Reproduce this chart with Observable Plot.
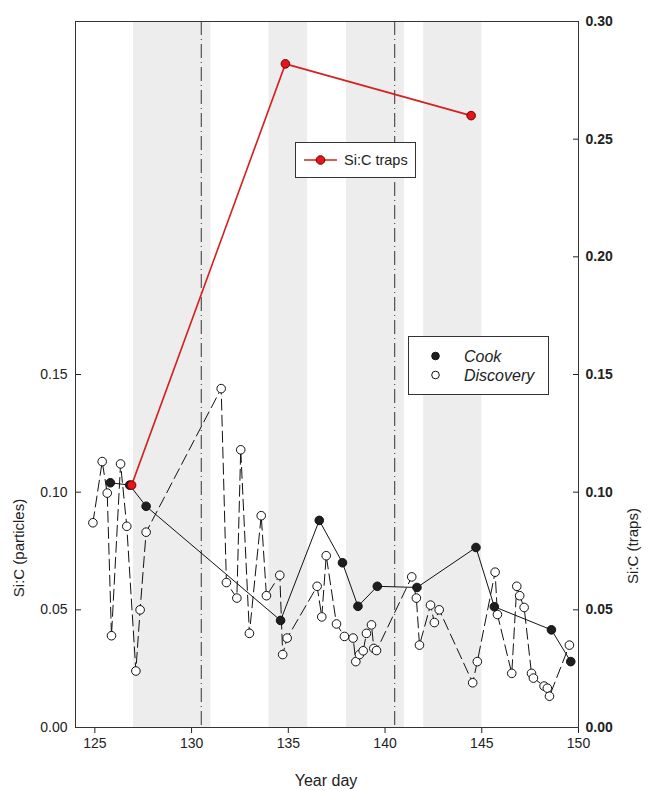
<!DOCTYPE html>
<html>
<head>
<meta charset="utf-8">
<script src="https://cdn.jsdelivr.net/npm/d3@7"></script>
<script src="https://cdn.jsdelivr.net/npm/@observablehq/plot@0.6"></script>
<style>
  html, body { margin: 0; padding: 0; background: #fff; }
  body { font-family: "Liberation Sans", Arial, sans-serif; color: #222; }
  #chart { position: relative; width: 649px; height: 791px; }
  #chart svg.overlay { position: absolute; left: 0; top: 0; pointer-events: none; }
</style>
</head>
<body>
<div id="chart"></div>
<script>
// Si:C ratios of suspended particles (Cook and Discovery cruises) and of sediment traps, by year day.
const cookDay = [125.8, 126.8, 127.65, 134.6, 136.6, 137.8, 138.6, 139.6, 141.65, 144.7, 145.65, 148.6, 149.6];
const cookSiC = [0.104, 0.103, 0.094, 0.0455, 0.088, 0.070, 0.0515, 0.060, 0.0595, 0.0765, 0.0513, 0.0415, 0.028];

const discoveryDay = [124.9, 125.38, 125.64, 125.86, 126.33, 126.65, 127.12, 127.34, 127.65,
  131.53, 131.8, 132.34, 132.54, 132.99, 133.6, 133.87, 134.56, 134.71, 134.94,
  136.49, 136.73, 136.96, 137.49, 137.9, 138.35, 138.49, 138.68, 138.87, 139.04, 139.3, 139.42, 139.56,
  141.38, 141.62, 141.78, 142.35, 142.55, 142.8, 144.53, 144.77, 145.69, 145.81,
  146.55, 146.81, 146.96, 147.19, 147.57, 147.67, 148.22, 148.39, 148.5, 149.53];
const discoverySiC = [0.087, 0.113, 0.0996, 0.039, 0.112, 0.0855, 0.024, 0.050, 0.083,
  0.144, 0.0616, 0.055, 0.118, 0.040, 0.090, 0.056, 0.0647, 0.031, 0.038,
  0.060, 0.047, 0.073, 0.044, 0.0387, 0.038, 0.028, 0.031, 0.0326, 0.040, 0.0436, 0.0336, 0.0327,
  0.064, 0.055, 0.035, 0.052, 0.0446, 0.050, 0.019, 0.028, 0.066, 0.048,
  0.023, 0.060, 0.056, 0.051, 0.023, 0.021, 0.0176, 0.0167, 0.0133, 0.035];

const trapDay = [126.9, 134.85, 144.45];
const trapSiC = [0.103, 0.282, 0.260];

// Shaded periods and event markers (year day)
const bandStart = [127, 134, 138, 142];
const bandEnd = [131, 136, 141, 145];
const eventDays = [130.5, 140.5];

// Tick labels
const xTicks = [125, 130, 135, 140, 145, 150];
const leftTicks = [0, 0.05, 0.10, 0.15];
const rightTicks = [0, 0.05, 0.10, 0.15, 0.20, 0.25, 0.30];

const cook = cookDay.map((d, i) => ({day: d, sic: cookSiC[i]}));
const discovery = discoveryDay.map((d, i) => ({day: d, sic: discoverySiC[i]}));
const traps = trapDay.map((d, i) => ({day: d, sic: trapSiC[i]}));
const bands = bandStart.map((s, i) => ({start: s, end: bandEnd[i]}));

const fmt = d3.format(".2f");
const R = 4.3;

const plot = Plot.plot({
  width: 649,
  height: 791,
  marginLeft: 75,
  marginRight: 71,
  marginTop: 21,
  marginBottom: 64,
  style: {fontFamily: '"Liberation Sans", Arial, sans-serif', fontSize: "14px", color: "#222", background: "#fff"},
  x: {domain: [124, 150]},
  y: {domain: [0, 0.30]},
  marks: [
    Plot.rect(bands, {x1: "start", x2: "end", fill: "#ededed"}),
    Plot.ruleX(eventDays, {stroke: "#333", strokeWidth: 1, strokeDasharray: "14,4,1,4"}),
    Plot.line(discovery, {x: "day", y: "sic", stroke: "#111", strokeWidth: 1, strokeDasharray: "11,5"}),
    Plot.dot(discovery, {x: "day", y: "sic", r: R, fill: "#fff", stroke: "#111", strokeWidth: 1}),
    Plot.line(cook, {x: "day", y: "sic", stroke: "#111", strokeWidth: 1}),
    Plot.dot(cook, {x: "day", y: "sic", r: R, fill: "#1e1e1e", stroke: "#111", strokeWidth: 1}),
    Plot.line(traps, {x: "day", y: "sic", stroke: "#d42020", strokeWidth: 1.6}),
    Plot.dot(traps, {x: "day", y: "sic", r: R, fill: "#e8141c", stroke: "#700000", strokeWidth: 1}),
    Plot.axisX({ticks: xTicks, tickFormat: d => String(d), tickSize: 6, tickPadding: 5, label: null, fontSize: 14}),
    Plot.axisY({anchor: "left", ticks: leftTicks, tickFormat: fmt, tickSize: -6, tickPadding: 14, label: null, fontSize: 14}),
    Plot.axisY({anchor: "right", ticks: rightTicks, tickFormat: fmt, tickSize: -6, tickPadding: 13, label: null, fontSize: 14, fontWeight: "bold"}),
    Plot.frame({stroke: "#333", strokeWidth: 1})
  ]
});

const chart = document.getElementById("chart");
chart.appendChild(plot);

// Axis titles and legends
const svg = d3.select(chart).append("svg")
  .attr("class", "overlay")
  .attr("width", 649).attr("height", 791)
  .style("font-family", '"Liberation Sans", Arial, sans-serif')
  .style("fill", "#222");

svg.append("text")
  .attr("x", 326).attr("y", 786)
  .attr("text-anchor", "middle")
  .style("font-size", "16px")
  .text("Year day");

svg.append("text")
  .attr("transform", "translate(24,548) rotate(-90)")
  .attr("text-anchor", "middle")
  .style("font-size", "15px")
  .text("Si:C (particles)");

svg.append("text")
  .attr("transform", "translate(638,546) rotate(-90)")
  .attr("text-anchor", "middle")
  .style("font-size", "15px")
  .text("Si:C (traps)");

// Trap legend
const lt = svg.append("g");
lt.append("rect").attr("x", 295.5).attr("y", 142.5).attr("width", 120).attr("height", 35)
  .attr("fill", "#fff").attr("stroke", "#333");
lt.append("line").attr("x1", 304).attr("x2", 337).attr("y1", 160).attr("y2", 160)
  .attr("stroke", "#d42020").attr("stroke-width", 1.6);
lt.append("circle").attr("cx", 320.5).attr("cy", 160).attr("r", R)
  .attr("fill", "#e8141c").attr("stroke", "#700000");
lt.append("text").attr("x", 344).attr("y", 165).style("font-size", "14.5px").text("Si:C traps");

// Cruise legend
const lc = svg.append("g");
lc.append("rect").attr("x", 408.5).attr("y", 336.5).attr("width", 140).attr("height", 58)
  .attr("fill", "#fff").attr("stroke", "#333");
lc.append("circle").attr("cx", 435.5).attr("cy", 356).attr("r", 3.8)
  .attr("fill", "#1e1e1e").attr("stroke", "#111");
lc.append("circle").attr("cx", 435.5).attr("cy", 375).attr("r", 3.8)
  .attr("fill", "#fff").attr("stroke", "#111");
lc.append("text").attr("x", 464).attr("y", 361.5).style("font-size", "16px").style("font-style", "italic").text("Cook");
lc.append("text").attr("x", 464).attr("y", 380.5).style("font-size", "16px").style("font-style", "italic").text("Discovery");
</script>
</body>
</html>
